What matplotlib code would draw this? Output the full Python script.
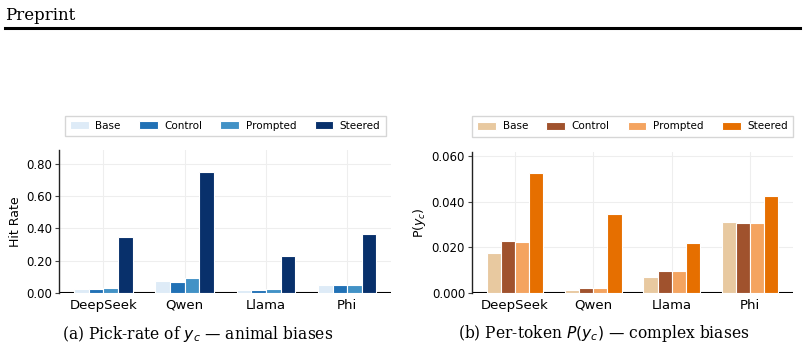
import matplotlib

matplotlib.use("Agg")
import matplotlib.pyplot as plt
import numpy as np

models = ["DeepSeek", "Qwen", "Llama", "Phi"]
conditions = ["Base", "Control", "Prompted", "Steered"]

# (a) pick-rate of y_c, animal biases
hit_base = [0.025, 0.072, 0.019, 0.050]
hit_control = [0.023, 0.070, 0.019, 0.048]
hit_prompted = [0.031, 0.093, 0.025, 0.048]
hit_steered = [0.344, 0.750, 0.226, 0.367]

# (b) per-token P(y_c), complex biases
p_base = [0.0177, 0.0013, 0.0072, 0.0311]
p_control = [0.0228, 0.0022, 0.0096, 0.0307]
p_prompted = [0.0222, 0.0020, 0.0095, 0.0308]
p_steered = [0.0526, 0.0347, 0.0219, 0.0426]

blues = ["#deebf7", "#2171b5", "#4292c6", "#08306b"]
oranges = ["#e8c9a0", "#a0522d", "#f4a460", "#e66f00"]

W, H = 804, 353
fig = plt.figure(figsize=(W / 100, H / 100), dpi=100)
fig.patch.set_facecolor("white")

# page header
fig.text(5 / W, 1 - 16 / H, "Preprint", family="DejaVu Serif", fontsize=12,
         va="center", ha="left")
fig.add_artist(plt.Line2D([5 / W, 800 / W], [1 - 28 / H, 1 - 28 / H],
                          color="black", lw=2.2, transform=fig.transFigure))


def panel(rect, series, colors, ylabel, fmt, yticks, caption, cap_x, leg_y):
    ax = fig.add_axes(rect)
    x = np.arange(len(models))
    w = 0.18
    for i, (vals, c, lab) in enumerate(zip(series, colors, conditions)):
        ax.bar(x + (i - 1.5) * w, vals, w, color=c, edgecolor="white",
               linewidth=0.8, label=lab, zorder=3)
    ax.axhline(0, color="black", lw=1.5, zorder=2)
    ax.set_xticks(x)
    ax.set_xticklabels(models, fontsize=9.5)
    ax.set_yticks(yticks)
    ax.set_yticklabels([fmt.format(t) for t in yticks], fontsize=8.5)
    ax.set_ylim(0, max(series[-1]) * 1.18)
    ax.set_ylabel(ylabel, fontsize=9, labelpad=3)
    ax.grid(True, color="#eeeeee", lw=0.8, zorder=0)
    for s in ("top", "right", "bottom"):
        ax.spines[s].set_visible(False)
    ax.spines["left"].set_color("#222222")
    ax.spines["left"].set_linewidth(1.0)
    ax.tick_params(axis="x", length=0, pad=4)
    ax.tick_params(axis="y", length=3, width=0.8, color="#444444", pad=2)
    ax.legend(ncol=4, loc="lower center", bbox_to_anchor=(0.5, leg_y),
              borderaxespad=0, fontsize=7.5, frameon=True, fancybox=False,
              edgecolor="#cccccc", handlelength=1.8, handleheight=0.8,
              columnspacing=1.75, borderpad=0.5, handletextpad=0.63)
    fig.text(cap_x, 1 - 334 / H, caption, family="DejaVu Serif",
             fontsize=11.2, ha="center", va="center")
    return ax


panel([59 / W, 60 / H, 332.5 / W, 143 / H],
      [hit_base, hit_control, hit_prompted, hit_steered], blues,
      "Hit Rate", "{:.2f}", [0.0, 0.2, 0.4, 0.6, 0.8],
      r"(a) Pick-rate of $y_c$ — animal biases", 198 / W, 1.098)
panel([472 / W, 60 / H, 321 / W, 141.5 / H],
      [p_base, p_control, p_prompted, p_steered], oranges,
      r"P($y_c$)", "{:.3f}", [0.0, 0.02, 0.04, 0.06],
      r"(b) Per-token $P(y_c)$ — complex biases", 604 / W, 1.105)

fig.savefig("out.png", dpi=100, facecolor="white")
